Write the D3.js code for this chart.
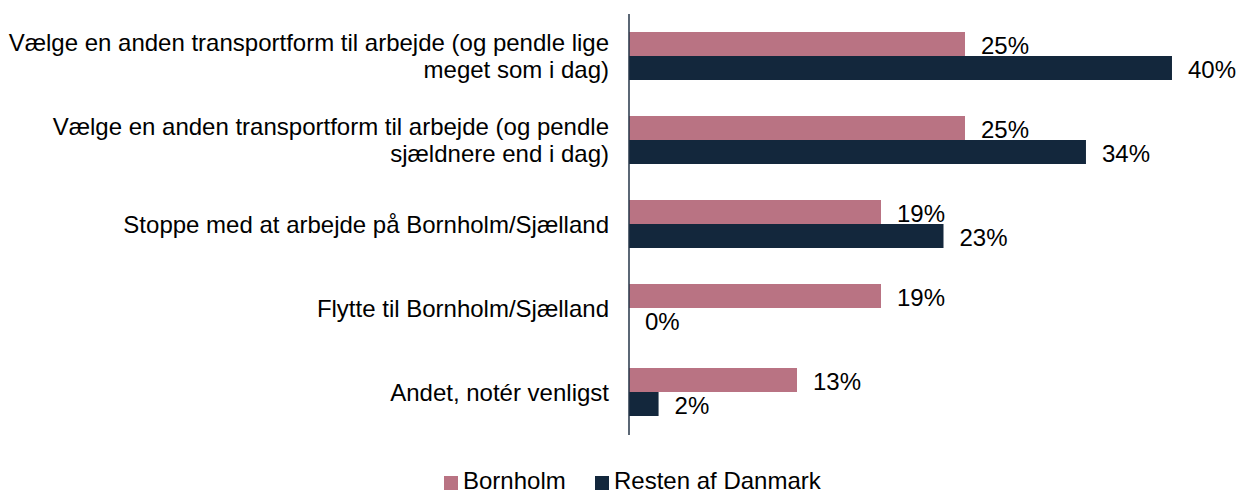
<!DOCTYPE html>
<html>
<head>
<meta charset="utf-8">
<script src="https://cdn.jsdelivr.net/npm/d3@7"></script>
<style>
  html, body { margin: 0; padding: 0; background: #fff; }
  svg { display: block; font-family: "Liberation Sans", Arial, sans-serif; }
</style>
</head>
<body>
<svg id="chart" width="1243" height="495"></svg>
<script>
// categories (line breaks as in the original labels)
const categories = [
  'Vælge en anden transportform til arbejde (og pendle lige\nmeget som i dag)',
  'Vælge en anden transportform til arbejde (og pendle\nsjældnere end i dag)',
  'Stoppe med at arbejde på Bornholm/Sjælland',
  'Flytte til Bornholm/Sjælland',
  'Andet, notér venligst',
];
const seriesNames = ['Bornholm', 'Resten af Danmark'];
const bornholm = [25, 25, 18.75, 18.75, 12.5];
const restenAfDanmark = [40.4, 34.0, 23.4, 0, 2.2];

const colors = ['#b97383', '#13273c'];

const svg = d3.select('#chart');
const fontSize = 24;

// Scales
const x = d3.scaleLinear().domain([0, 45]).range([629, 629 + 45 * 13.44]);
const y = d3.scaleBand()
  .domain(d3.range(categories.length))
  .range([14, 434])
  .paddingInner(36 / 84)
  .paddingOuter(18 / 84); // ~18px outside
const ySub = d3.scaleBand().domain([0, 1]).range([0, y.bandwidth()]);

const rows = categories.map((c, i) => ({
  label: c,
  values: [bornholm[i], restenAfDanmark[i]],
}));

// Bars
const groups = svg.append('g').attr('class', 'groups')
  .selectAll('g')
  .data(rows)
  .join('g')
  .attr('transform', (d, i) => `translate(0,${y(i)})`);

groups.selectAll('rect')
  .data(d => d.values)
  .join('rect')
  .attr('x', x(0))
  .attr('y', (d, j) => ySub(j))
  .attr('width', d => x(d) - x(0))
  .attr('height', ySub.bandwidth())
  .attr('fill', (d, j) => colors[j]);

// Value labels
groups.selectAll('text.value')
  .data(d => d.values)
  .join('text')
  .attr('class', 'value')
  .attr('x', d => x(d) + 16)
  .attr('y', (d, j) => ySub(j) + ySub.bandwidth() / 2 + 9.5)
  .attr('font-size', fontSize)
  .attr('fill', '#000')
  .text(d => Math.round(d) + '%');

// Category labels
groups.append('text')
  .attr('text-anchor', 'end')
  .attr('font-size', fontSize)
  .attr('fill', '#000')
  .each(function(d) {
    const lines = d.label.split('\n');
    const lineH = 27;
    const mid = y.bandwidth() / 2 + 8.5;
    const first = mid - (lines.length - 1) * lineH / 2;
    d3.select(this).selectAll('tspan')
      .data(lines)
      .join('tspan')
      .attr('x', 609)
      .attr('y', (l, k) => first + k * lineH)
      .text(l => l);
  });

// Axis line
svg.append('line')
  .attr('x1', x(0)).attr('x2', x(0))
  .attr('y1', 14).attr('y2', 435)
  .attr('stroke', '#243447')
  .attr('stroke-width', 1.5);

// Legend
const legendX = [444, 595];
const legend = svg.append('g').attr('class', 'legend')
  .selectAll('g')
  .data(seriesNames)
  .join('g')
  .attr('transform', (d, i) => `translate(${legendX[i]},476)`);

legend.append('rect')
  .attr('width', 14)
  .attr('height', 14)
  .attr('fill', (d, i) => colors[i]);

legend.append('text')
  .attr('x', 19)
  .attr('y', 13)
  .attr('font-size', fontSize)
  .attr('fill', '#000')
  .text(d => d);
</script>
</body>
</html>
